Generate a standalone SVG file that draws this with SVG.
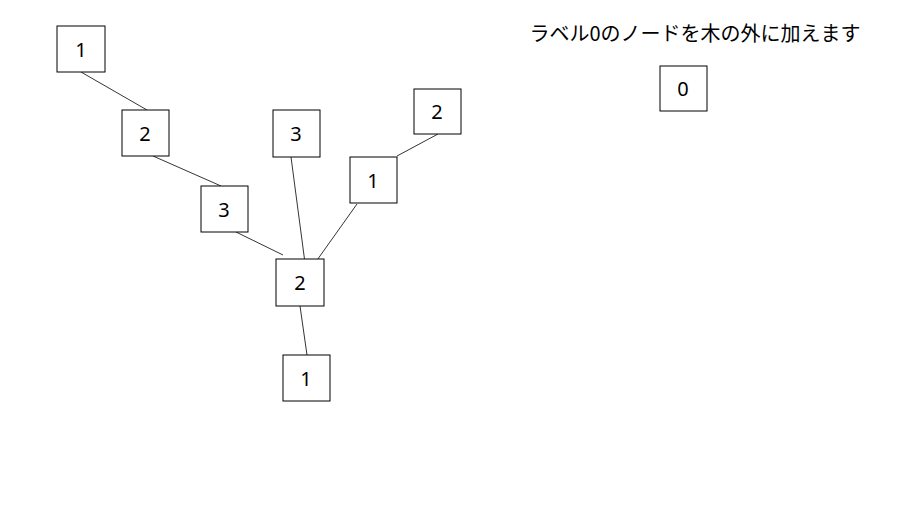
<svg xmlns="http://www.w3.org/2000/svg" width="900" height="506" viewBox="0 0 900 506">
<style>
.n rect{fill:#fff;stroke:#000;stroke-width:1}
.n text{font-family:"Noto Sans","Noto Sans CJK JP",sans-serif;font-size:20px;text-anchor:middle;dominant-baseline:central}
#edges line{stroke:#000;stroke-width:0.8}
</style>
<rect width="900" height="506" fill="#fff"/>
<g id="edges">
<line x1="81" y1="72" x2="147" y2="110"/>
<line x1="153" y1="156" x2="221" y2="186"/>
<line x1="236" y1="232" x2="283" y2="255"/>
<line x1="291" y1="157" x2="305" y2="263"/>
<line x1="357" y1="204" x2="315" y2="263"/>
<line x1="438" y1="134" x2="397" y2="156"/>
<line x1="300" y1="306" x2="307" y2="355"/>
</g>
<g id="n1" class="n"><rect x="57" y="26" width="48" height="46"/><text x="81" y="49">1</text></g>
<g id="n2" class="n"><rect x="122" y="110" width="47" height="46"/><text x="145" y="133">2</text></g>
<g id="n3" class="n"><rect x="201" y="186" width="47" height="46"/><text x="224" y="209">3</text></g>
<g id="n4" class="n"><rect x="273" y="110" width="47" height="47"/><text x="296" y="133">3</text></g>
<g id="n5" class="n"><rect x="414" y="89" width="47" height="45"/><text x="437" y="111">2</text></g>
<g id="n6" class="n"><rect x="350" y="157" width="47" height="46"/><text x="373" y="180">1</text></g>
<g id="n7" class="n"><rect x="276" y="259" width="48" height="47"/><text x="300" y="282">2</text></g>
<g id="n8" class="n"><rect x="283" y="355" width="47" height="46"/><text x="306" y="378">1</text></g>
<g id="n9" class="n"><rect x="660" y="66" width="47" height="45"/><text x="683" y="88">0</text></g>
<text x="695" y="32" font-family="Noto Sans CJK JP,sans-serif" font-size="20" text-anchor="middle" dominant-baseline="central">ラベル0のノードを木の外に加えます</text>
</svg>
